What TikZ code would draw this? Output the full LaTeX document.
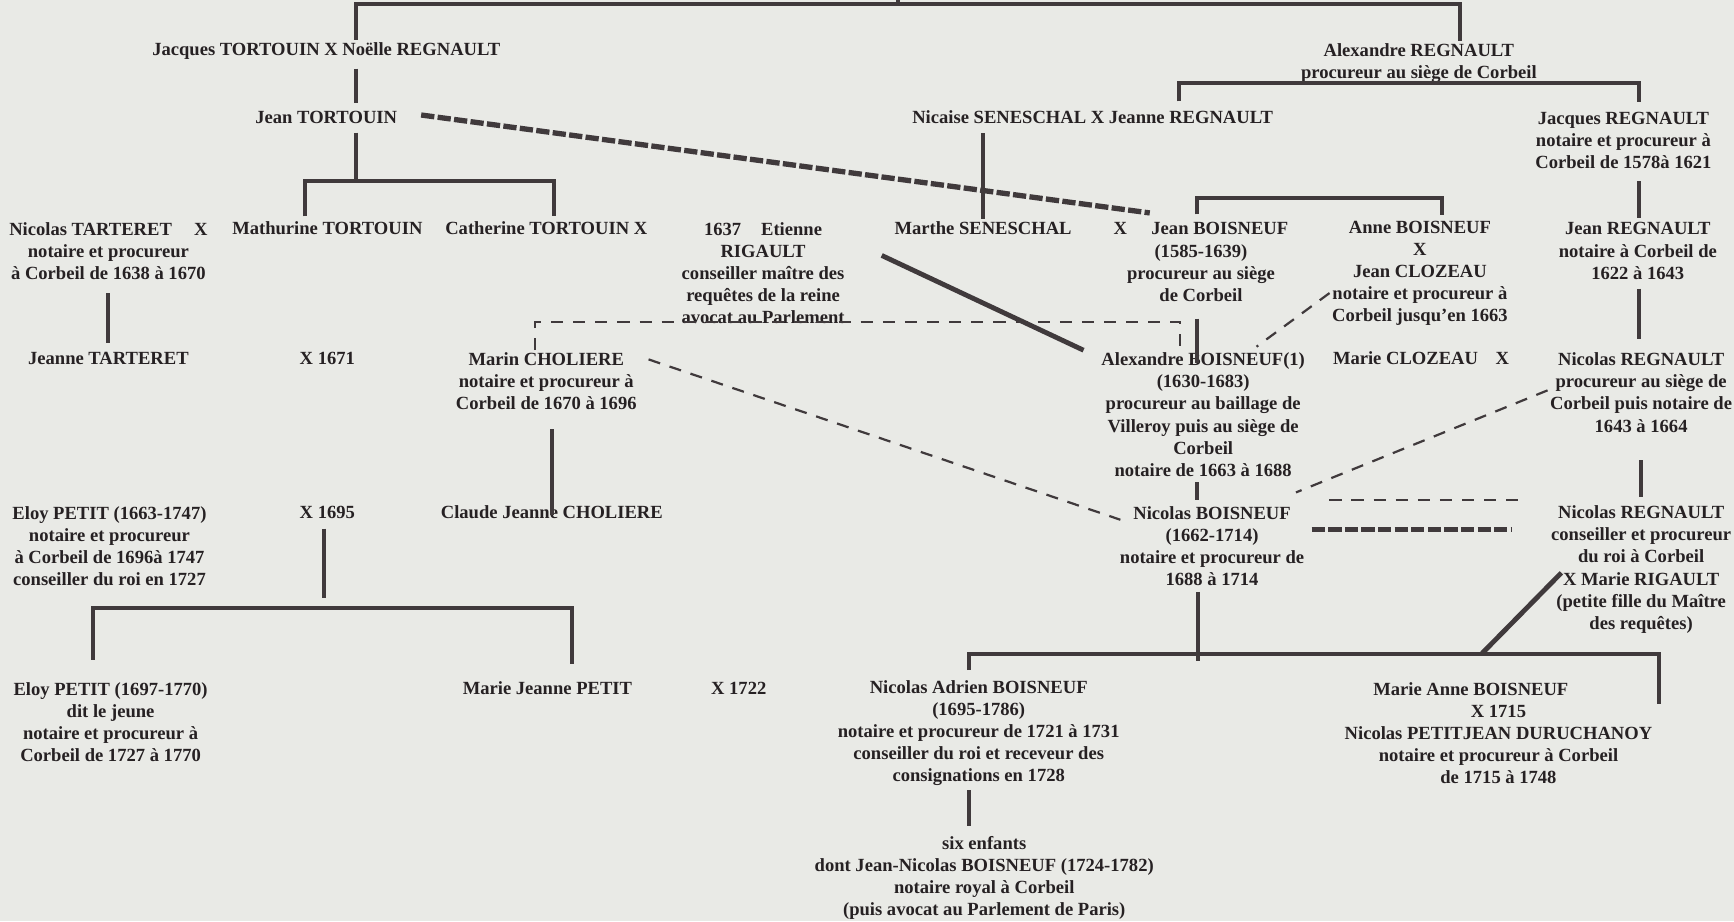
\documentclass[tikz,border=0pt]{standalone}
\usepackage{fontspec}
\setmainfont{Liberation Serif}
\usepackage{tikz}
\definecolor{paper}{RGB}{233,234,230}
\definecolor{ink}{RGB}{38,33,35}
\definecolor{pen}{RGB}{64,58,60}

\begin{document}
\begin{tikzpicture}[x=0.5pt, y=-0.5pt, every node/.style={align=center, inner sep=1pt, text=ink, font=\fontsize{8.4}{10}\selectfont\bfseries},
	lineage/.style={draw=pen, line width=1.8pt},
	kinlink/.style={draw=pen, line width=1pt, dash pattern=on 5.5pt off 4.5pt},
	heavylink/.style={draw=pen, line width=2.4pt, dash pattern=on 6pt off 1.5pt},
	tieline/.style={draw=pen, line width=2.2pt}]
	\fill[paper] (0,0) rectangle (1568,833);
	\useasboundingbox (0,0) rectangle (1568,833);

	\node(JTNR) at (295,46){Jacques TORTOUIN X Noëlle REGNAULT};
	\node(AR) at (1283,57){Alexandre REGNAULT\\procureur au siège de Corbeil};
	\node[below of=JTNR, node distance=30pt](JT){Jean TORTOUIN};
	\node(NSJR) at (988,106){Nicaise SENESCHAL X Jeanne REGNAULT};
	\node(JR) at (1468,127){Jacques REGNAULT\\notaire et procureur à\\Corbeil de 1578à 1621};

	\node(NT) at (98,227){Nicolas TARTERET\hspace{10pt}X\\notaire et procureur\\à Corbeil de 1638 à 1670};
	\node(MT) at (296,206){Mathurine TORTOUIN};
	\node(CT) at (494,206){Catherine TORTOUIN X};
	\node(ER) at (690,247){1637\hspace{9pt}Etienne\\RIGAULT\\conseiller maître des\\requêtes de la reine\\avocat au Parlement};
	\node(MS) at (889,206){Marthe SENESCHAL};
	\node(JB) at (1086,237){X\hspace{11pt}Jean BOISNEUF\\(1585-1639)\\procureur au siège\\de Corbeil};
	\node(AB) at (1284,247){Anne BOISNEUF\\X\\Jean CLOZEAU\\notaire et procureur à\\Corbeil jusqu'en 1663};
	\node(JRe) at (1481,227){Jean REGNAULT\\notaire à Corbeil de\\1622 à 1643};

	\node[below of=NT, node distance=48.5pt](JTa){Jeanne TARTERET};
	\node[below of=MT, node distance=59pt](M1671){X 1671};
	\node(MC) at (494,345){Marin CHOLIERE\\notaire et procureur à\\Corbeil de 1670 à 1696};
	\node(ABo) at (1088,375){Alexandre BOISNEUF(1)\\(1630-1683)\\procureur au baillage de\\Villeroy puis au siège de\\Corbeil\\notaire de 1663 à 1688};
	\node(MCl) at (1285,324){Marie CLOZEAU\hspace{8pt}X};
	\node(NR1) at (1484,355){Nicolas REGNAULT\\procureur au siège de\\Corbeil puis notaire de\\1643 à 1664};

	\node(EP) at (99,494){Eloy PETIT (1663-1747)\\notaire et procureur\\à Corbeil de 1696à 1747\\conseiller du roi en 1727};
	\node[below of=M1671, node distance=69.5pt](M1695){X 1695};
	\node(CJC) at (499,463){Claude Jeanne CHOLIERE};
	\node(NB) at (1096,494){Nicolas BOISNEUF\\(1662-1714)\\notaire et procureur de\\1688 à 1714};
	\node[below of=NR1, node distance=80pt](NR2){Nicolas REGNAULT\\conseiller et procureur\\du roi à Corbeil\\X Marie RIGAULT\\(petite fille du Maître\\des requêtes)};

	\node(EPj) at (100,653){Eloy PETIT (1697-1770)\\dit le jeune\\notaire et procureur à\\Corbeil de 1727 à 1770};
	\node(MJP) at (495,622){Marie Jeanne PETIT};
	\node(M1722) at (668,622){X 1722};
	\node(NAB) at (885,663){Nicolas Adrien BOISNEUF\\(1695-1786)\\notaire et procureur de 1721 à 1731\\conseiller du roi et receveur des\\consignations en 1728};
	\node(MAB) at (1355,663){Marie Anne BOISNEUF\hspace*{25pt}\\X 1715\\Nicolas PETITJEAN DURUCHANOY\\notaire et procureur à Corbeil\\de 1715 à 1748};
	\node(SE) at (890,794){six enfants\\dont Jean-Nicolas BOISNEUF (1724-1782)\\notaire royal à Corbeil\\(puis avocat au Parlement de Paris)};

	\coordinate(T0) at (812,0);
	\coordinate(T1) at (812,4);
	\coordinate(TL) at (322,4);
	\coordinate(TR) at (1320,4);
	\draw[lineage] (T0) -- (T1);
	\draw[lineage] (TL |- JTNR.north) -- (TL) -- (TR) -- (TR |- AR.north);
	\draw[lineage, shorten <=3pt, shorten >=2.5pt] (TL |- JTNR.south) -- (TL |- JT.north);

	\coordinate(JTb) at (322,164);
	\coordinate(MTb) at (276,164);
	\coordinate(CTb) at (501,164);
	\draw[lineage, shorten <=3pt] (JTb |- JT.south) -- (JTb);
	\draw[lineage, shorten <=1pt, shorten >=1pt] (MTb |- MT.north) -- (MTb) -- (CTb) -- (CTb |- CT.north);

	\coordinate(ARl) at (1066,75);
	\coordinate(ARr) at (1482,75);
	\draw[lineage, shorten <=3pt, shorten >=3.5pt] (ARl |- NSJR.north) -- (ARl) -- (ARr) -- (ARr |- JR.north);
	\draw[lineage, shorten <=3pt] (MS.north |- NSJR.south) -- (MS.north);

	\coordinate(JBb) at (1082,179);
	\coordinate(ABb) at (1304,179);
	\draw[lineage, shorten <=2.5pt, shorten >=1.5pt] (JBb |- JB.north) -- (JBb) -- (ABb) -- (ABb |- AB.north);
	\draw[lineage, shorten <=4.5pt, shorten >=1pt] (ARr |- JR.south) -- (ARr |- JRe.north);
	\draw[lineage, shorten <=3pt, shorten >=5pt] (ARr |- JRe.south) -- (ARr |- NR1.north);
	\draw[lineage, shorten <=5pt, shorten >=3pt] (NT.south) -- (JTa.north);
	\draw[lineage, shorten <=6.5pt, shorten >=-6pt] (JBb |- JB.south) -- (JBb |- ABo.north);
	\draw[heavylink] ([xshift=9.7pt,yshift=1pt]JT.east) -- ([xshift=17.5pt,yshift=3.2pt]JB.north west);

	\coordinate(MCd) at (484,291);
	\coordinate(ABd) at (1067,291);
	\draw[kinlink] (MCd |- MC.north) -- (MCd) -- (ABd) -- (ABd |- ABo.north);
	\draw[tieline] ([xshift=15.6pt,yshift=8pt]ER.east) -- ([xshift=-6.9pt]ABo.north west);
	\draw[kinlink] ([xshift=4.2pt,yshift=10pt]MC.east) -- ([xshift=1.4pt,yshift=12pt]NB.west);
	\draw[kinlink] ([yshift=-9pt]AB.west) -- ([xshift=-23.1pt,yshift=1.6pt]ABo.north east);
	\draw[kinlink] ([yshift=1pt]NR1.west) -- ([xshift=-4.9pt,yshift=5.2pt]NB.north east);
	\draw[lineage, shorten <=7.5pt, shorten >=-1.5pt] (CJC |- MC.south) -- (CJC.center);

	\draw[lineage, shorten <=1.5pt, shorten >=2pt] (JBb |- ABo.south) -- (JBb |- NB.north);
	\draw[kinlink] ([xshift=10.2pt,yshift=21pt]NB.east) -- ([xshift=-9.7pt,yshift=31.5pt]NR2.west);
	\draw[heavylink] ([xshift=2.2pt,yshift=7.5pt]NB.east) -- ([xshift=-16.7pt,yshift=18pt]NR2.west);
	\draw[lineage, shorten <=11.5pt, shorten >=2.75pt] (NR1.south) -- (NR2.north);

	\coordinate(NBb) at (1083,591);
	\coordinate(NBe) at (1083,598);
	\coordinate(NABb) at (876,591);
	\coordinate(MABb) at (1500,591);
	\coordinate(MABe) at (1500,637);
	\coordinate(MRb) at (1340,591);
	\draw[lineage, shorten <=1.5pt] (NBb |- NB.south) -- (NBe);
	\draw[lineage, shorten <=3.5pt] (NABb |- NAB.north) -- (NABb) -- (MABb) -- (MABe);
	\draw[tieline] ([xshift=5.8pt,yshift=-1.5pt]NR2.west) -- (MRb);
	\draw[lineage, shorten <=0.75pt, shorten >=3.5pt] (NABb |- NAB.south) -- (NABb |- SE.north);

	\coordinate(EPs) at (293,541);
	\coordinate(EPl) at (84,550);
	\coordinate(EPr) at (517,550);
	\draw[lineage, shorten <=3.5pt] (EPs |- M1695.south) -- (EPs);
	\draw[lineage, shorten <=9pt, shorten >=6.5pt] (EPl |- EPj.north) -- (EPl) -- (EPr) -- (EPr |- MJP.north);

\end{tikzpicture}
\end{document}
